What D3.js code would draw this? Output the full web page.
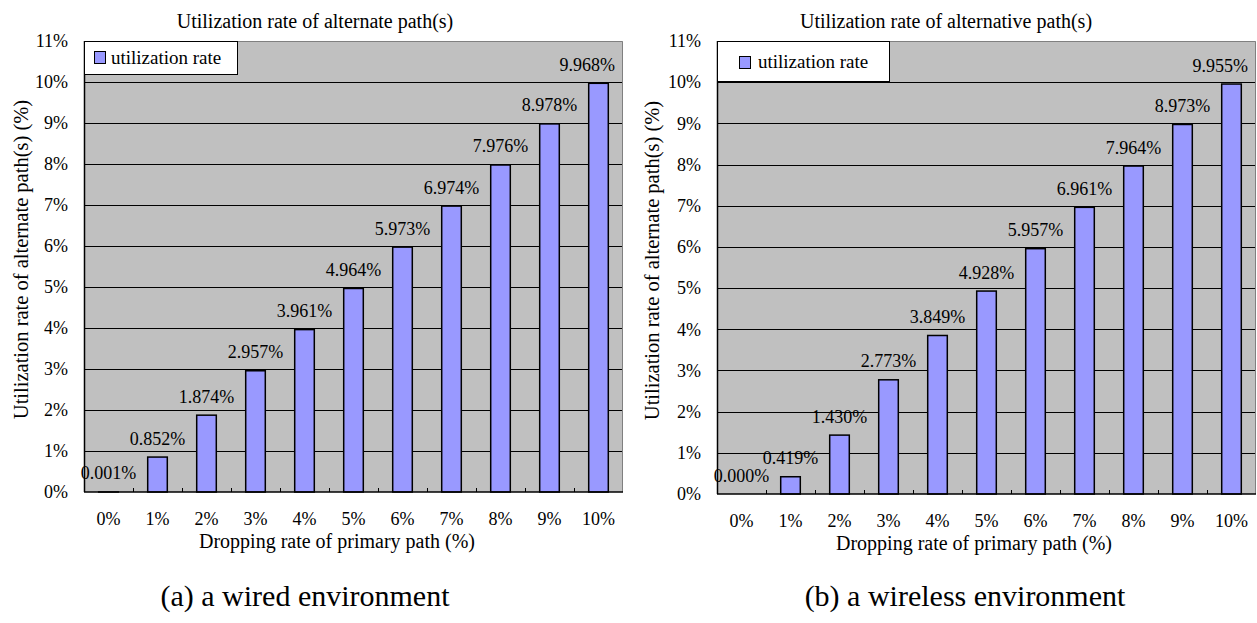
<!DOCTYPE html>
<html>
<head>
<meta charset="utf-8">
<script src="https://cdn.jsdelivr.net/npm/d3@7"></script>
<style>
  html, body { margin: 0; padding: 0; background: #ffffff; }
  svg { display: block; }
  text { font-family: "Liberation Serif", "Times New Roman", serif; fill: #000; }
</style>
</head>
<body>
<svg id="fig" width="1257" height="623"></svg>
<script>
// Categories: dropping rate of the primary path
const categories = ["0%", "1%", "2%", "3%", "4%", "5%", "6%", "7%", "8%", "9%", "10%"];

// Utilization rate (%) of the alternate path(s)
const wiredValues    = [0.001, 0.852, 1.874, 2.957, 3.961, 4.964, 5.973, 6.974, 7.976, 8.978, 9.968];
const wirelessValues = [0.000, 0.419, 1.430, 2.773, 3.849, 4.928, 5.957, 6.961, 7.964, 8.973, 9.955];

// Y axis ticks (percent)
const yTicks = [0, 1, 2, 3, 4, 5, 6, 7, 8, 9, 10, 11];

const seriesName = "utilization rate";
const xTitle = "Dropping rate of primary path (%)";
const yTitle = "Utilization rate of alternate path(s) (%)";

const panels = [
  {
    title: "Utilization rate of alternate path(s)",
    caption: "(a) a wired environment",
    values: wiredValues,
    plot: { left: 84, right: 623, top: 41, bottom: 492 },
    titleX: 315, xTitleX: 337, captionX: 305, yTitleX: 28,
    legend: { w: 153, h: 33, sx: 10, sy: 10, tx: 27, ty: 23 }
  },
  {
    title: "Utilization rate of alternative path(s)",
    caption: "(b) a wireless environment",
    values: wirelessValues,
    plot: { left: 717, right: 1256, top: 41, bottom: 494 },
    titleX: 946, xTitleX: 974, captionX: 965, yTitleX: 659,
    legend: { w: 172, h: 40, sx: 22, sy: 15, tx: 41, ty: 27 }
  }
];

const BAR_FILL = "#9999ff";
const PLOT_BG = "#c0c0c0";

const svg = d3.select("#fig");

panels.forEach(p => {
  const g = svg.append("g");
  const { left, right, top, bottom } = p.plot;

  // slot scale: one slot per category (tick marks sit on slot edges)
  const slot = d3.scaleBand().domain(categories).range([left, right]).padding(0);
  // bar scale: narrower bars centered in each slot
  const bar = d3.scaleBand().domain(categories).range([left, right])
    .paddingInner(0.6).paddingOuter(0.3);
  const y = d3.scaleLinear().domain([0, 11]).range([bottom, top]);

  // plot background
  g.append("rect")
    .attr("x", left).attr("y", top)
    .attr("width", right - left).attr("height", bottom - top)
    .attr("fill", PLOT_BG);

  // horizontal gridlines
  g.append("g").selectAll("line")
    .data(yTicks.filter(t => t > 0 && t < 11))
    .join("line")
    .attr("x1", left).attr("x2", right)
    .attr("y1", d => Math.round(y(d)) + 0.5).attr("y2", d => Math.round(y(d)) + 0.5)
    .attr("stroke", "#000").attr("stroke-width", 1);

  // top and right frame (grey)
  g.append("path")
    .attr("d", `M${left},${top + 0.5}H${right - 0.5}V${bottom}`)
    .attr("fill", "none").attr("stroke", "#808080").attr("stroke-width", 1);

  // bars
  g.append("g").selectAll("rect")
    .data(p.values)
    .join("rect")
    .attr("x", (d, i) => bar(categories[i]))
    .attr("y", d => y(d))
    .attr("width", bar.bandwidth())
    .attr("height", d => y(0) - y(d))
    .attr("fill", BAR_FILL)
    .attr("stroke", "#000")
    .attr("stroke-width", 1.5);

  // data labels, kept inside the plot's right edge
  g.append("g").selectAll("text")
    .data(p.values)
    .join("text")
    .attr("x", (d, i) => bar(categories[i]) + bar.bandwidth() / 2)
    .attr("y", d => y(d) - 12.5)
    .attr("text-anchor", "middle")
    .attr("font-size", 18)
    .text(d => d.toFixed(3) + "%")
    .each(function () {
      const box = this.getBBox();
      const limit = right - 8;
      if (box.x + box.width > limit) {
        d3.select(this).attr("x", +d3.select(this).attr("x") - (box.x + box.width - limit));
      }
    });

  // left axis line
  g.append("line")
    .attr("x1", left + 0.5).attr("x2", left + 0.5)
    .attr("y1", top).attr("y2", bottom)
    .attr("stroke", "#000").attr("stroke-width", 1.5);

  // bottom axis with inner tick marks at slot edges
  const xAxis = d3.axisBottom(slot).tickSize(0).tickPadding(20);
  const xg = g.append("g").attr("transform", `translate(0,${bottom})`).call(xAxis);
  xg.select(".domain").remove();
  xg.selectAll("text")
    .attr("font-family", "Liberation Serif").attr("font-size", 18).attr("fill", "#000");

  g.append("g").selectAll("line")
    .data(categories.slice(1))
    .join("line")
    .attr("x1", d => Math.round(slot(d)) + 0.5).attr("x2", d => Math.round(slot(d)) + 0.5)
    .attr("y1", bottom).attr("y2", bottom - 4)
    .attr("stroke", "#000").attr("stroke-width", 1);

  g.append("line")
    .attr("x1", left).attr("x2", right)
    .attr("y1", bottom).attr("y2", bottom)
    .attr("stroke", "#000").attr("stroke-width", 1.5);

  // left axis labels
  const yAxis = d3.axisLeft(y).tickValues(yTicks).tickFormat(d => d + "%").tickSize(0).tickPadding(16);
  const yg = g.append("g").attr("transform", `translate(${left},0)`).call(yAxis);
  yg.select(".domain").remove();
  yg.selectAll("text")
    .attr("font-family", "Liberation Serif").attr("font-size", 18).attr("fill", "#000");

  // legend
  const L = p.legend;
  const lg = g.append("g").attr("transform", `translate(${left},${top})`);
  lg.append("rect")
    .attr("x", 0.5).attr("y", 0.5).attr("width", L.w).attr("height", L.h)
    .attr("fill", "#fff").attr("stroke", "#000").attr("stroke-width", 1);
  lg.append("rect")
    .attr("x", L.sx + 0.5).attr("y", L.sy + 0.5).attr("width", 11).attr("height", 12)
    .attr("fill", BAR_FILL).attr("stroke", "#000").attr("stroke-width", 1);
  lg.append("text")
    .attr("x", L.tx).attr("y", L.ty)
    .attr("font-size", 19)
    .text(seriesName);

  // chart title
  g.append("text")
    .attr("x", p.titleX).attr("y", 28)
    .attr("text-anchor", "middle").attr("font-size", 20)
    .text(p.title);

  // x axis title
  g.append("text")
    .attr("x", p.xTitleX).attr("y", bottom + 56)
    .attr("text-anchor", "middle").attr("font-size", 20)
    .text(xTitle);

  // y axis title
  g.append("text")
    .attr("transform", `translate(${p.yTitleX},${(top + bottom) / 2 - 7}) rotate(-90)`)
    .attr("text-anchor", "middle").attr("font-size", 20.5)
    .text(yTitle);

  // panel caption
  g.append("text")
    .attr("x", p.captionX).attr("y", 606)
    .attr("text-anchor", "middle").attr("font-size", 30)
    .text(p.caption);
});
</script>
</body>
</html>
